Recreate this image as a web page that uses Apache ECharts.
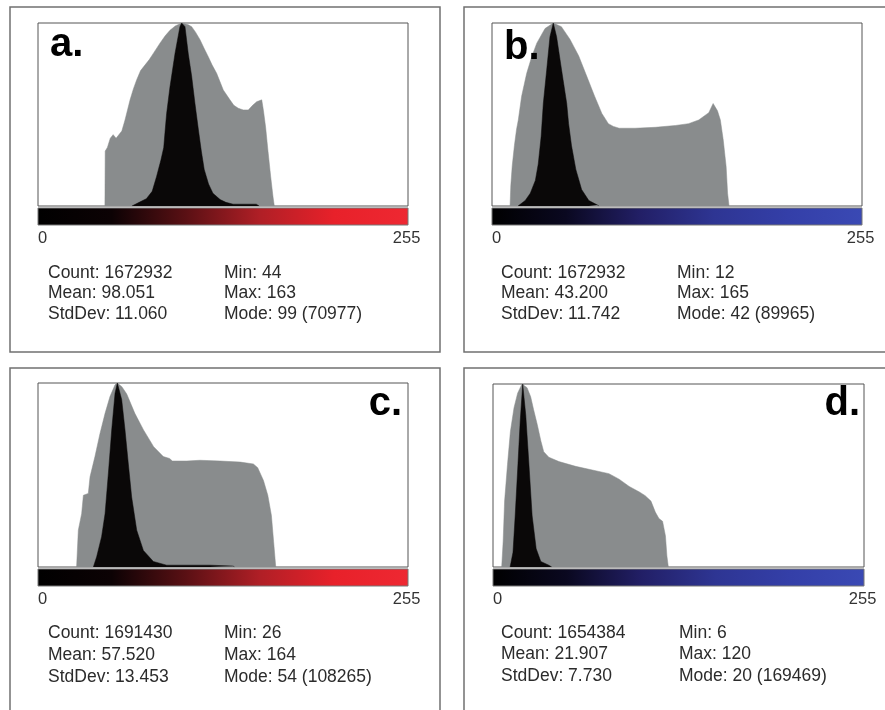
<!DOCTYPE html>
<html>
<head>
<meta charset="utf-8">
<script src="https://cdn.jsdelivr.net/npm/echarts@6/dist/echarts.min.js"></script>
<style>
html, body { margin: 0; padding: 0; background: #fff; }
#chart { width: 885px; height: 710px; }
</style>
</head>
<body>
<div id="chart"></div>
<script>
// outlines: [grey level, % of panel height]
const grayA = [[46.3,0],[46.5,30],[48,32],[50,37],[52,39],[54,37],[58,41],[60.2,47],[63.7,58],[66,64],[68.3,69],[71,74],[74,77],[77,80],[79.8,83.4],[84.4,89],[88,93],[91.3,96],[95,98.4],[99.4,100],[104,99],[106.3,98],[109,95],[112,91],[115,86],[117.8,81.6],[120.5,77],[123.6,72.5],[128.2,63.4],[132.8,58],[135.5,55],[138.6,53.4],[142,52.5],[145.5,52.5],[148.5,55],[151.3,57],[154.8,58],[156,52],[157.5,43],[159,31],[161,16],[162.6,5],[163.5,0]];
const blackA = [[65,0],[70,2],[75,4],[79,8],[82,16],[85,25],[87,32],[88,41.5],[89,50.6],[91.3,65],[94.8,83.4],[98.2,98],[99.4,100],[101.7,98],[104,83],[106.3,71],[108.6,56],[111,41.5],[113,30],[115,20],[118,12],[121,7],[126,3.5],[130,2],[135,1],[151,1],[153,0]];

const grayB = [[12.5,0],[13,11],[14,22],[15.5,33],[17,42],[18.2,47],[20.5,60],[24,72.5],[27.5,81.6],[31,89],[36.7,97],[42.4,100],[48,98],[54,91],[60,82],[65.5,71],[71,60],[76,50.6],[80.5,45],[84,43.5],[88,42.5],[99,42.5],[113,43],[127,44],[136,45],[143,47],[150,51],[153,56],[156,52],[158,47],[160,36],[162,21.5],[163,7],[164,0]];
const blackB = [[18,0],[23,3],[26.5,7],[30,14],[32,23],[34,38],[35.5,56],[37.8,74],[40.1,92.5],[42.4,100],[44.7,92.5],[48.2,74],[51.7,56],[53,45],[55,33],[58,20],[62,9],[67,3],[73,0.5],[74,0]];

const grayC = [[26.7,0],[27.9,20],[30.2,29],[31.4,39],[34.8,40],[36,49],[39.4,60],[42.9,72.6],[46.4,83.5],[49.8,92.6],[53.3,99],[54.9,100],[58,98],[61.4,94],[67,83.5],[73,74.5],[80,65.4],[86.7,60],[91,59],[93,57.6],[103,57.6],[112,58],[126,57.6],[140,57],[149,56],[152,54],[156,47],[159,39],[161.5,28],[163,14],[164.5,0]];
const blackC = [[38.3,0],[40.6,5.6],[44,16.5],[46.4,29],[48.7,51],[51,74.5],[53.3,94.4],[54.9,100],[57.9,91],[60.2,74.5],[62.5,56],[64.8,38],[68.3,20],[72.9,9],[79.8,3],[89,1],[119,1],[135,0.5],[136,0]];

const grayD = [[6,0],[7,14],[8,36],[10,56],[12,74],[14.5,87],[17,95],[20,100],[23.5,98],[26,93],[28,86],[30.5,78],[33,69],[35,63],[38.5,60],[45.5,57.6],[57,55],[68.5,53],[80,51],[87,48],[94,44],[101,41],[105,39],[109,36],[112,30],[114.5,26.5],[117,25],[119,17],[120,6],[121,0]];
const blackD = [[11.8,0],[13.8,8],[15.3,28],[17.2,56],[18.8,80],[20.5,100],[22.6,83],[24.8,56],[27,28],[29.8,10],[33,3],[38.5,1],[40.5,0]];

const axisTicks = [0, 255];

const statsA = ['Count: 1672932', 'Mean: 98.051', 'StdDev: 11.060', 'Min: 44', 'Max: 163', 'Mode: 99 (70977)'];
const statsB = ['Count: 1672932', 'Mean: 43.200', 'StdDev: 11.742', 'Min: 12', 'Max: 165', 'Mode: 42 (89965)'];
const statsC = ['Count: 1691430', 'Mean: 57.520', 'StdDev: 13.453', 'Min: 26', 'Max: 164', 'Mode: 54 (108265)'];
const statsD = ['Count: 1654384', 'Mean: 21.907', 'StdDev: 7.730', 'Min: 6', 'Max: 120', 'Mode: 20 (169469)'];

const FONT = '"Liberation Sans", Arial, sans-serif';

const redLut = [[0,'#000000'],[0.2,'#0c0204'],[0.4,'#5a1014'],[0.6,'#b01f26'],[0.8,'#e8212a'],[1,'#ee2832']];
const blueLut = [[0,'#000000'],[0.2,'#0a0820'],[0.4,'#221f66'],[0.6,'#2e3593'],[0.8,'#343fa8'],[1,'#3a49b4']];

const panels = [
  { label: 'a.', gray: grayA, black: blackA, stats: statsA, lut: redLut,
    grid: {left: 38, top: 23, width: 370, height: 183}, box: [10, 7, 430, 345],
    lab: {x: 50, y: 45, align: 'left'}, tx: [48, 224], ty: [273, 293.5, 314] },
  { label: 'b.', gray: grayB, black: blackB, stats: statsB, lut: blueLut,
    grid: {left: 492, top: 23, width: 370, height: 183}, box: [464, 7, 440, 345],
    lab: {x: 504, y: 48, align: 'left'}, tx: [501, 677], ty: [273, 293.5, 314] },
  { label: 'c.', gray: grayC, black: blackC, stats: statsC, lut: redLut,
    grid: {left: 38, top: 383, width: 370, height: 184}, box: [10, 368, 430, 360],
    lab: {x: 402, y: 404, align: 'right'}, tx: [48, 224], ty: [633, 655, 677] },
  { label: 'd.', gray: grayD, black: blackD, stats: statsD, lut: blueLut,
    grid: {left: 493, top: 384, width: 371, height: 183}, box: [464, 368, 440, 360],
    lab: {x: 860, y: 404, align: 'right'}, tx: [501, 679], ty: [633, 654.5, 676] }
];

const grids = [], xAxes = [], yAxes = [], series = [], graphics = [];

panels.forEach((p, i) => {
  grids.push(Object.assign({show: true, borderColor: '#555', borderWidth: 1, backgroundColor: '#fff'}, p.grid));
  xAxes.push({
    type: 'value', gridIndex: i, min: 0, max: 256,
    axisLine: {show: false}, axisTick: {show: false}, splitLine: {show: false},
    axisLabel: {customValues: axisTicks, margin: 24, fontSize: 16.5, color: '#333', fontFamily: FONT, alignMinLabel: 'left'}
  });
  yAxes.push({type: 'value', gridIndex: i, min: 0, max: 100, show: false});
  series.push({
    type: 'line', xAxisIndex: i, yAxisIndex: i, data: p.gray, symbol: 'none', silent: true,
    lineStyle: {width: 0.5, color: '#898c8d'}, areaStyle: {color: '#898c8d', opacity: 1}, z: 2
  });
  series.push({
    type: 'line', xAxisIndex: i, yAxisIndex: i, data: p.black, symbol: 'none', silent: true,
    lineStyle: {width: 0.5, color: '#0a0808'}, areaStyle: {color: '#0a0808', opacity: 1}, z: 3
  });

  // panel frame
  graphics.push({
    type: 'rect', shape: {x: p.box[0], y: p.box[1], width: p.box[2], height: p.box[3]},
    style: {fill: 'none', stroke: '#707070', lineWidth: 1.5}, z: -10
  });
  // colour lookup bar under the histogram
  const g = p.grid;
  graphics.push({
    type: 'rect', shape: {x: g.left, y: g.top + g.height + 2, width: g.width, height: 17},
    style: {
      fill: new echarts.graphic.LinearGradient(0, 0, 1, 0, p.lut.map(s => ({offset: s[0], color: s[1]}))),
      stroke: '#777', lineWidth: 1
    }, z: 5
  });
  graphics.push({
    type: 'text', x: p.lab.x, y: p.lab.y, z: 100,
    style: {text: p.label, font: 'bold 40px ' + FONT, fill: '#000', align: p.lab.align, verticalAlign: 'middle'}
  });
  p.stats.forEach((s, k) => {
    graphics.push({
      type: 'text', x: p.tx[Math.floor(k / 3)], y: p.ty[k % 3], z: 100,
      style: {text: s, font: '17.5px ' + FONT, fill: '#2b2b2b', align: 'left', verticalAlign: 'middle'}
    });
  });
});

const chart = echarts.init(document.getElementById('chart'));
chart.setOption({
  animation: false,
  backgroundColor: '#fff',
  grid: grids,
  xAxis: xAxes,
  yAxis: yAxes,
  series: series,
  graphic: graphics
});
</script>
</body>
</html>
